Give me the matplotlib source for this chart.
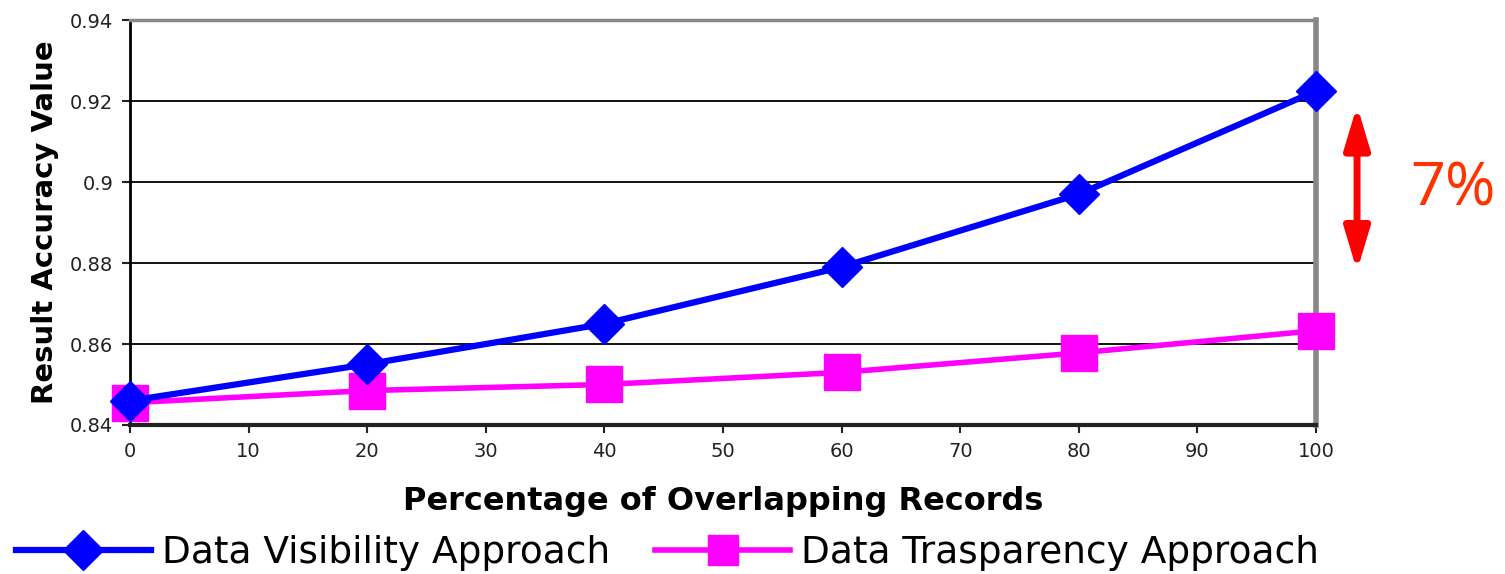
import matplotlib
matplotlib.use("Agg")
import matplotlib.pyplot as plt
from matplotlib.lines import Line2D
from matplotlib.patches import FancyArrowPatch

# Data
overlap_pct = [0, 20, 40, 60, 80, 100]
visibility_acc = [0.846, 0.855, 0.865, 0.879, 0.897, 0.9225]
transparency_acc = [0.8455, 0.8485, 0.850, 0.853, 0.8578, 0.8633]
x_ticks = list(range(0, 101, 10))
y_ticks = [0.84, 0.86, 0.88, 0.90, 0.92, 0.94]
y_tick_labels = ["0.84", "0.86", "0.88", "0.9", "0.92", "0.94"]
series_names = ["Data Visibility Approach", "Data Trasparency Approach"]
gap_label = "7%"

BLUE = "#0000FF"
MAGENTA = "#FF00FF"

fig = plt.figure(figsize=(15.05, 5.74), dpi=100)
ax = fig.add_axes([0.0864, 0.2596, 0.7880, 0.7054])

ax.set_xlim(0, 100)
ax.set_ylim(0.84, 0.94)

# horizontal grid lines
for yv in y_ticks[1:-1]:
    ax.axhline(yv, color="black", lw=1.3, zorder=1)

ax.plot(overlap_pct, visibility_acc, color=BLUE, lw=4.5, marker="D",
        markersize=20, markeredgecolor=BLUE, zorder=4, clip_on=False)
ax.plot(overlap_pct, transparency_acc, color=MAGENTA, lw=4, marker="s",
        markersize=26, markeredgecolor=MAGENTA, zorder=3, clip_on=False)

ax.set_xticks(x_ticks)
ax.set_xticklabels([str(v) for v in x_ticks])
ax.set_yticks(y_ticks)
ax.set_yticklabels(y_tick_labels)
ax.tick_params(axis="both", direction="out", length=6, width=1.5,
               labelsize=14, colors="#222222", pad=6)

ax.spines["left"].set_color("black")
ax.spines["left"].set_linewidth(2)
ax.spines["bottom"].set_color("#222222")
ax.spines["bottom"].set_linewidth(3)
ax.spines["top"].set_color("#888888")
ax.spines["top"].set_linewidth(2.5)
ax.spines["right"].set_color("#888888")
ax.spines["right"].set_linewidth(4)

ax.set_xlabel("Percentage of Overlapping Records", fontsize=23,
              fontweight="bold", labelpad=18)
ax.set_ylabel("Result Accuracy Value", fontsize=21, fontweight="bold",
              labelpad=8)

# legend along the bottom
handles = [
    Line2D([], [], color=BLUE, lw=4.5, marker="D", markersize=20),
    Line2D([], [], color=MAGENTA, lw=4, marker="s", markersize=22),
]
fig.legend(handles, series_names, loc="lower left",
           bbox_to_anchor=(-0.007, -0.04), ncol=2, frameon=False,
           fontsize=27, handlelength=3.6, handletextpad=0.3,
           columnspacing=1.2, borderaxespad=0.3)

# gap annotation
fig.add_artist(FancyArrowPatch(
    (0.9017, 0.816), (0.9017, 0.528), transform=fig.transFigure,
    arrowstyle="<|-|>,head_length=1.5,head_width=0.45",
    color="#FF0000", lw=5, mutation_scale=17, shrinkA=0, shrinkB=0))
fig.text(0.9655, 0.669, gap_label, fontsize=44, color="#FF3300",
         family="Open Sans", ha="center", va="center")

fig.savefig("out.png", dpi=100, facecolor="white")
